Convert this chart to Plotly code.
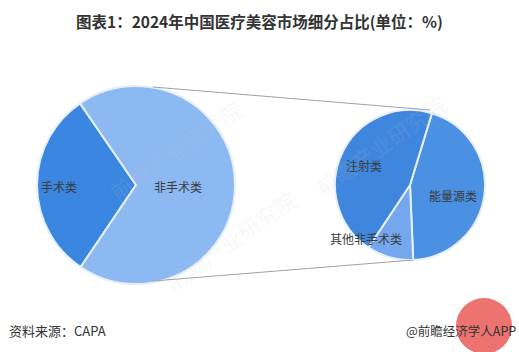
import plotly.graph_objects as go

W, H = 519, 352
FONT = "Noto Sans CJK SC"

title_text = "图表1：2024年中国医疗美容市场细分占比(单位：%)"
main_labels = ["手术类", "非手术类"]
main_values = [31.0, 69.0]
main_colors = ["#3a86e0", "#8db9f2"]

sub_labels = ["能量源类", "其他非手术类", "注射类"]
sub_values = [44.6, 10.0, 45.4]
sub_colors = ["#4a90e3", "#74a7ee", "#3f86df"]

source_text = "资料来源：CAPA"
brand_text = "@前瞻经济学人APP"


def px(x):
    return x / W


def py(y):
    return 1 - y / H


fig = go.Figure()

fig.add_trace(go.Pie(
    labels=main_labels, values=main_values, sort=False,
    direction="clockwise", rotation=214,
    marker=dict(colors=main_colors, line=dict(color="#e6f0fc", width=2)),
    textinfo="none",
    domain=dict(x=[px(37), px(235)], y=[py(284), py(86)]),
    showlegend=False, hoverinfo="label+value",
))

fig.add_trace(go.Pie(
    labels=sub_labels, values=sub_values, sort=False,
    direction="clockwise", rotation=17,
    marker=dict(colors=sub_colors, line=dict(color="#e6f0fc", width=2)),
    textinfo="none",
    domain=dict(x=[px(335), px(485)], y=[py(260), py(110)]),
    showlegend=False, hoverinfo="label+value",
))

shapes = [
    dict(type="line", xref="paper", yref="paper",
         x0=px(153), y0=py(87), x1=px(430), y1=py(110),
         line=dict(color="#a0a0a0", width=1)),
    dict(type="line", xref="paper", yref="paper",
         x0=px(153), y0=py(281), x1=px(413), y1=py(260),
         line=dict(color="#a0a0a0", width=1)),
    dict(type="circle", xref="paper", yref="paper",
         x0=px(456), y0=py(354), x1=px(512), y1=py(298),
         fillcolor="rgba(232,80,76,0.8)", line=dict(width=0), layer="above"),
]

annotations = [
    dict(text="<b>" + title_text + "</b>", x=px(259), y=py(21), xref="paper", yref="paper",
         showarrow=False, font=dict(family=FONT, size=15.5, color="#333333"),
         xanchor="center", yanchor="middle"),
    dict(text=source_text, x=px(7), y=py(330), xref="paper", yref="paper",
         showarrow=False, font=dict(family=FONT, size=13, color="#333333"),
         xanchor="left", yanchor="middle"),
    dict(text=brand_text, x=px(518), y=py(330), xref="paper", yref="paper",
         showarrow=False, font=dict(family=FONT, size=12.5, color="#333333"),
         xanchor="right", yanchor="middle"),
]

# slice labels
label_pos = {
    "手术类": (59, 186), "非手术类": (178, 186),
    "注射类": (364, 165), "能量源类": (453, 195), "其他非手术类": (366, 238),
}
for lab in main_labels + sub_labels:
    lx, ly = label_pos[lab]
    annotations.append(dict(text=lab, x=px(lx), y=py(ly), xref="paper", yref="paper",
                            showarrow=False, xanchor="center", yanchor="middle",
                            font=dict(family=FONT, size=12, color="#3c3c3c")))

# faint watermarks
for (wx, wy) in [(175, 150), (455, 145), (230, 300)]:
    annotations.append(dict(text="前瞻产业研究院", x=px(wx), y=py(wy), xref="paper", yref="paper",
                            showarrow=False, textangle=-35,
                            font=dict(family=FONT, size=22, color="rgba(200,200,200,0.15)")))

fig.update_layout(
    width=W, height=H,
    margin=dict(l=0, r=0, t=0, b=0),
    paper_bgcolor="white", plot_bgcolor="white",
    shapes=shapes, annotations=annotations,
    font=dict(family=FONT),
)

fig.write_html("out.html")
